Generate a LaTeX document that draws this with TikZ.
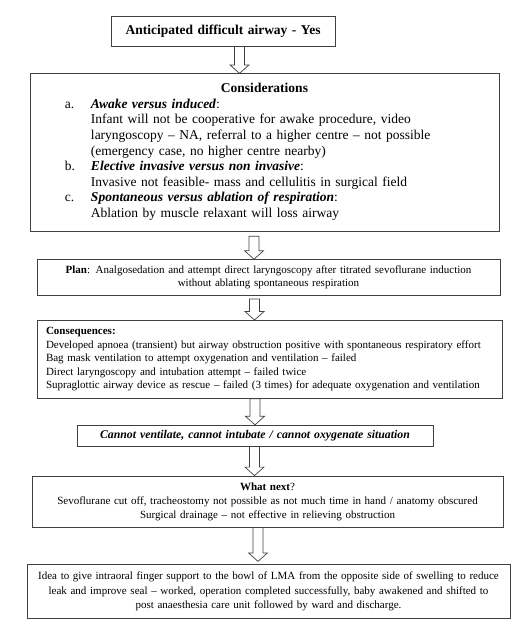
\documentclass[tikz,border=0pt]{standalone}
\usepackage{fontspec}
\setmainfont{Liberation Serif}
\usetikzlibrary{positioning,calc}

\begin{document}
\begin{tikzpicture}[node distance=27pt,
 box/.style={draw=black!75, line width=0.8pt, align=center, inner xsep=0pt, inner ysep=2pt},
 fat/.style={draw=black!75, line width=0.7pt, to path={
   let \p1=(\tikztostart), \p2=(\tikztotarget) in
   (\x1-5pt,\y1) -- (\x1-5pt,\y2+8.5pt) -- (\x1-9.5pt,\y2+8.5pt) -- (\x1,\y2)
   -- (\x1+9.5pt,\y2+8.5pt) -- (\x1+5pt,\y2+8.5pt) -- (\x1+5pt,\y1) -- cycle}}]
\useasboundingbox (0,0) rectangle (522pt,-632pt);
\node[box, text width=224pt, minimum height=30pt, font=\fontsize{13.5}{16}\selectfont\bfseries] (ada) at (223pt,-31pt) {Anticipated difficult airway - Yes};
\node[box, below=27pt of ada, xshift=41.5pt, text width=469pt, minimum height=158pt, align=left,
 font=\fontsize{13.5}{15.6}\selectfont] (consid) {%
 \centering\textbf{Considerations}\par\raggedright
 \noindent\hspace*{35pt}\begin{tabular}[t]{@{}p{26pt}@{}l@{}}
 a. & \textbf{\textit{Awake versus induced}}:\\
    & Infant will not be cooperative for awake procedure, video\\
    & laryngoscopy -- NA, referral to a higher centre -- not possible\\
    & (emergency case, no higher centre nearby)\\
 b. & \textbf{\textit{Elective invasive versus non invasive}}:\\
    & Invasive not feasible- mass and cellulitis in surgical field\\
 c. & \textbf{\textit{Spontaneous versus ablation of respiration}}:\\
    & Ablation by muscle relaxant will loss airway
 \end{tabular}};
\node[box, below=27pt of consid, xshift=4pt, text width=463pt, minimum height=36pt, font=\fontsize{11}{13}\selectfont] (plan) {\textbf{Plan}: Analgosedation and attempt direct laryngoscopy after titrated sevoflurane induction\\ without ablating spontaneous respiration};
\node[box, below=24pt of plan, xshift=1pt, text width=447pt, inner xsep=9pt, minimum height=78pt, align=left, font=\fontsize{11}{13.5}\selectfont] (conseq) {\textbf{Consequences:}\\
 Developed apnoea (transient) but airway obstruction positive with spontaneous respiratory effort\\
 Bag mask ventilation to attempt oxygenation and ventilation -- failed\\
 Direct laryngoscopy and intubation attempt -- failed twice\\
 Supraglottic airway device as rescue -- failed (3 times) for adequate oxygenation and ventilation};
\node[box, below=26pt of conseq, xshift=-14.5pt, text width=356pt, minimum height=21pt, font=\fontsize{11.8}{13}\selectfont\bfseries\itshape] (cvci) {Cannot ventilate, cannot intubate / cannot oxygenate situation};
\node[box, below=29pt of cvci, xshift=12.5pt, text width=471pt, minimum height=51pt, font=\fontsize{11}{14}\selectfont] (next) {\textbf{What next}?\\
 Sevoflurane cut off, tracheostomy not possible as not much time in hand / anatomy obscured\\
 Surgical drainage -- not effective in relieving obstruction};
\node[box, below=37pt of next, xshift=1pt, text width=483pt, minimum height=54pt, font=\fontsize{11}{14.5}\selectfont] (idea) {Idea to give intraoral finger support to the bowl of LMA from the opposite side of swelling to reduce\\
 leak and improve seal -- worked, operation completed successfully, baby awakened and shifted to\\
 post anaesthesia care unit followed by ward and discharge.};
\draw[fat] ([xshift=16.5pt]ada.south) to (consid.north);
\draw[fat] ([xshift=-10.5pt,yshift=-4pt]consid.south) to (plan.north);
\draw[fat] ([xshift=-14pt,yshift=-3pt]plan.south) to (conseq.north);
\draw[fat] ([xshift=-14.5pt]conseq.south) to (cvci.north);
\draw[fat] ([xshift=-0.5pt]cvci.south) to (next.north);
\draw[fat] ([xshift=-9.5pt]next.south) to ([yshift=3pt]idea.north);
\end{tikzpicture}
\end{document}
